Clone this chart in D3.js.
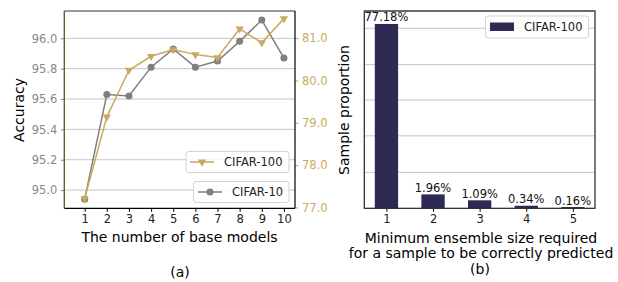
<!DOCTYPE html>
<html>
<head>
<meta charset="utf-8">
<script src="https://cdn.jsdelivr.net/npm/d3@7"></script>
<style>
  body { margin: 0; background: #fff; }
  text { font-family: "DejaVu Sans", sans-serif; }
</style>
</head>
<body>
<div class="chart"></div>
<script>
const width = 618
const height = 282

// (a) accuracy vs number of base models
const models = [1, 2, 3, 4, 5, 6, 7, 8, 9, 10]
const cifar10 = [94.94, 95.63, 95.62, 95.81, 95.93, 95.81, 95.85, 95.98, 96.12, 95.87]
const cifar100 = [77.21, 79.14, 80.24, 80.57, 80.73, 80.61, 80.54, 81.22, 80.89, 81.46]
const leftTicks = [95.0, 95.2, 95.4, 95.6, 95.8, 96.0]
const rightTicks = [77.0, 78.0, 79.0, 80.0, 81.0]

// (b) minimum ensemble size
const sizes = [1, 2, 3, 4, 5]
const proportion = [77.18, 1.96, 1.09, 0.34, 0.16]
const gridValues = [5.75, 14.4, 27.0, 45.3, 73.1]

const gold = "#c9aa5f"
const gray = "#80807b"
const navy = "#2d2b54"
const gridColor = "#c6c6c6"

const svg = d3.select(".chart")
    .append("svg")
    .attr("width", width)
    .attr("height", height)

// ---------- panel (a) ----------
const a = { left: 64.3, right: 295, top: 11, bottom: 208.3 }

const xA = d3.scaleLinear().domain([0.08, 10.5]).range([a.left, a.right])
const yL = d3.scaleLinear().domain([94.88, 96.18]).range([a.bottom, a.top])
const yR = d3.scaleLinear().domain([76.98, 81.64]).range([a.bottom, a.top])

const gA = svg.append("g")

// gridlines
gA.selectAll("line.grid")
    .data(leftTicks)
    .enter().append("line")
        .attr("x1", a.left).attr("x2", a.right)
        .attr("y1", d => yL(d)).attr("y2", d => yL(d))
        .attr("stroke", gridColor)
        .attr("stroke-width", 1)

const lineL = d3.line().x((d, i) => xA(models[i])).y(d => yL(d))
const lineR = d3.line().x((d, i) => xA(models[i])).y(d => yR(d))

gA.append("path")
    .attr("d", lineL(cifar10))
    .attr("fill", "none")
    .attr("stroke", gray)
    .attr("stroke-width", 1.5)

gA.selectAll("circle.c10")
    .data(cifar10)
    .enter().append("circle")
        .attr("cx", (d, i) => xA(models[i]))
        .attr("cy", d => yL(d))
        .attr("r", 3.5)
        .attr("fill", gray)

gA.append("path")
    .attr("d", lineR(cifar100))
    .attr("fill", "none")
    .attr("stroke", gold)
    .attr("stroke-width", 1.5)

const tri = d3.symbol().type(d3.symbolTriangle).size(30)
gA.selectAll("path.c100")
    .data(cifar100)
    .enter().append("path")
        .attr("d", tri)
        .attr("transform", (d, i) => `translate(${xA(models[i])},${yR(d)}) rotate(180)`)
        .attr("fill", gold)

// axes
const axA = gA.append("g")
    .attr("transform", `translate(0,${a.bottom})`)
    .call(d3.axisBottom(xA).tickValues(models).tickSize(3.5).tickPadding(3))
axA.select("path.domain").remove()
axA.selectAll("line").attr("stroke", "#000")
axA.selectAll("text").attr("fill", "#222").style("font-size", "11.5px")

const axL = gA.append("g")
    .attr("transform", `translate(${a.left},0)`)
    .call(d3.axisLeft(yL).tickValues(leftTicks).tickFormat(d3.format(".1f")).tickSize(3.5).tickPadding(3.5))
axL.select("path.domain").remove()
axL.selectAll("line").attr("stroke", "#888")
axL.selectAll("text").attr("fill", "#888").style("font-size", "11.5px")

const axR = gA.append("g")
    .attr("transform", `translate(${a.right},0)`)
    .call(d3.axisRight(yR).tickValues(rightTicks).tickFormat(d3.format(".1f")).tickSize(3.5).tickPadding(3.5))
axR.select("path.domain").remove()
axR.selectAll("line").attr("stroke", gold)
axR.selectAll("text").attr("fill", gold).style("font-size", "11.5px")

// spines
gA.append("line").attr("x1", a.left).attr("x2", a.right).attr("y1", a.top).attr("y2", a.top)
    .attr("stroke", "#333").attr("stroke-width", 1.2)
gA.append("line").attr("x1", a.left).attr("x2", a.right).attr("y1", a.bottom).attr("y2", a.bottom)
    .attr("stroke", "#000").attr("stroke-width", 1.2)
gA.append("line").attr("x1", a.right).attr("x2", a.right).attr("y1", a.top).attr("y2", a.bottom)
    .attr("stroke", "#000").attr("stroke-width", 1.2)
gA.append("line").attr("x1", a.left).attr("x2", a.left).attr("y1", a.top).attr("y2", a.bottom)
    .attr("stroke", "#6e5a2c").attr("stroke-width", 1.4)

// legends
function legendBox(g, x, y, w, h) {
    g.append("rect")
        .attr("x", x).attr("y", y).attr("width", w).attr("height", h)
        .attr("rx", 2.5)
        .attr("fill", "#fff").attr("fill-opacity", 0.85)
        .attr("stroke", "#d2d2d2")
}

legendBox(gA, 186, 151.5, 103, 21)
gA.append("line").attr("x1", 190).attr("x2", 214).attr("y1", 162).attr("y2", 162)
    .attr("stroke", gold).attr("stroke-width", 1.5)
gA.append("path").attr("d", tri).attr("transform", "translate(202,162) rotate(180)").attr("fill", gold)
gA.append("text").attr("x", 224).attr("y", 166).text("CIFAR-100").style("font-size", "11.5px").attr("fill", "#222")

legendBox(gA, 193.5, 181.5, 95.5, 21)
gA.append("line").attr("x1", 198).attr("x2", 222).attr("y1", 192).attr("y2", 192)
    .attr("stroke", gray).attr("stroke-width", 1.5)
gA.append("circle").attr("cx", 210).attr("cy", 192).attr("r", 3.5).attr("fill", gray)
gA.append("text").attr("x", 232).attr("y", 196).text("CIFAR-10").style("font-size", "11.5px").attr("fill", "#222")

// labels
gA.append("text")
    .attr("transform", "translate(24,110) rotate(-90)")
    .attr("text-anchor", "middle")
    .style("font-size", "14px")
    .text("Accuracy")
gA.append("text")
    .attr("x", 179.5).attr("y", 241.5)
    .attr("text-anchor", "middle")
    .style("font-size", "14px")
    .text("The number of base models")
gA.append("text")
    .attr("x", 180).attr("y", 277)
    .attr("text-anchor", "middle")
    .style("font-size", "14px")
    .text("(a)")

// ---------- panel (b) ----------
const b = { left: 364.3, right: 595, top: 11, bottom: 208.3 }

const xB = d3.scaleLinear().domain([0.525, 5.475]).range([b.left, b.right])
const yB = d3.scaleSymlog().constant(12).domain([0, 90.7]).range([b.bottom, b.top])
const barW = xB(1.5) - xB(1)

const gB = svg.append("g")

gB.selectAll("line.grid")
    .data(gridValues)
    .enter().append("line")
        .attr("x1", b.left).attr("x2", b.right)
        .attr("y1", d => yB(d)).attr("y2", d => yB(d))
        .attr("stroke", gridColor)
        .attr("stroke-width", 1)

gB.selectAll("rect.bar")
    .data(proportion)
    .enter().append("rect")
        .attr("x", (d, i) => xB(sizes[i]) - barW / 2)
        .attr("y", d => yB(d))
        .attr("width", barW)
        .attr("height", d => yB(0) - yB(d))
        .attr("fill", navy)

gB.selectAll("text.val")
    .data(proportion)
    .enter().append("text")
        .attr("x", (d, i) => xB(sizes[i]))
        .attr("y", d => yB(d) - 2.5)
        .attr("text-anchor", "middle")
        .style("font-size", "11.5px")
        .attr("fill", "#111")
        .text(d => d3.format(".2f")(d) + "%")

const axB = gB.append("g")
    .attr("transform", `translate(0,${b.bottom})`)
    .call(d3.axisBottom(xB).tickValues(sizes).tickFormat(d3.format("d")).tickSize(3.5).tickPadding(3))
axB.select("path.domain").remove()
axB.selectAll("line").attr("stroke", "#000")
axB.selectAll("text").attr("fill", "#222").style("font-size", "11.5px")

gB.append("rect")
    .attr("x", b.left).attr("y", b.top)
    .attr("width", b.right - b.left).attr("height", b.bottom - b.top)
    .attr("fill", "none").attr("stroke", "#222").attr("stroke-width", 1.2)
gB.append("line").attr("x1", b.left).attr("x2", b.right).attr("y1", b.top).attr("y2", b.top)
    .attr("stroke", "#666").attr("stroke-width", 1.4)

legendBox(gB, 485.5, 16, 103, 22)
gB.append("rect").attr("x", 490).attr("y", 22.5).attr("width", 24).attr("height", 8.5).attr("fill", navy)
gB.append("text").attr("x", 524).attr("y", 31).text("CIFAR-100").style("font-size", "11.5px").attr("fill", "#222")

gB.append("text")
    .attr("transform", "translate(349,110) rotate(-90)")
    .attr("text-anchor", "middle")
    .style("font-size", "14px")
    .text("Sample proportion")
gB.append("text")
    .attr("x", 481).attr("y", 242.5)
    .attr("text-anchor", "middle")
    .style("font-size", "14px")
    .text("Minimum ensemble size required")
gB.append("text")
    .attr("x", 481).attr("y", 258)
    .attr("text-anchor", "middle")
    .style("font-size", "14px")
    .text("for a sample to be correctly predicted")
gB.append("text")
    .attr("x", 480).attr("y", 274)
    .attr("text-anchor", "middle")
    .style("font-size", "14px")
    .text("(b)")
</script>
</body>
</html>
